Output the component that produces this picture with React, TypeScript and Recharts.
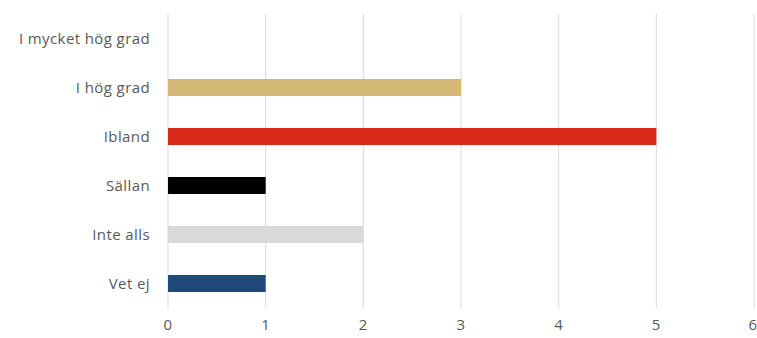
import { BarChart, Bar, XAxis, YAxis, CartesianGrid, Cell } from 'recharts';

// svarsalternativ, uppifrån och ned
const categories = ['I mycket hög grad', 'I hög grad', 'Ibland', 'Sällan', 'Inte alls', 'Vet ej'];
const values = [0, 3, 5, 1, 2, 1];
const barColors = ['#D6B878', '#D6B878', '#DA2A1C', '#000000', '#D9D9D9', '#1F497D'];
const xTicks = [0, 1, 2, 3, 4, 5, 6];

const data = categories.map((name, i) => ({ name, value: values[i] }));

const tickStyle = {
  fontSize: 15,
  fill: '#595959',
  fontFamily: '"Open Sans", sans-serif',
  letterSpacing: 0.4,
};

export default function App() {
  return (
    <div style={{ position: 'absolute', left: 0, top: 0, background: '#fff' }}>
      <BarChart
        width={757}
        height={338}
        data={data}
        layout="vertical"
        margin={{ top: 14, right: 3, bottom: 0, left: 0 }}
      >
        <CartesianGrid horizontal={false} stroke="#D9D9D9" />
        <XAxis
          type="number"
          domain={[0, 6]}
          ticks={xTicks}
          axisLine={false}
          tickLine={false}
          height={30}
          tick={tickStyle}
          tickMargin={5}
        />
        <YAxis
          type="category"
          dataKey="name"
          width={168}
          axisLine={false}
          tickLine={false}
          tick={tickStyle}
          tickMargin={12}
        />
        <Bar dataKey="value" barSize={17} isAnimationActive={false}>
          {data.map((d, i) => (
            <Cell key={d.name} fill={barColors[i]} />
          ))}
        </Bar>
      </BarChart>
    </div>
  );
}
